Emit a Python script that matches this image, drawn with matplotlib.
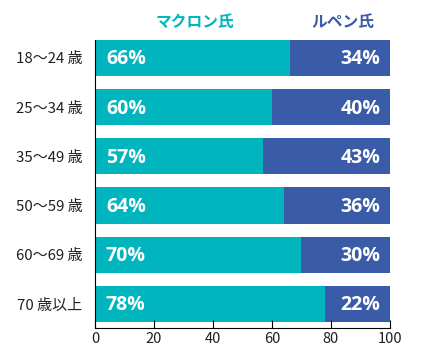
import numpy as np
import matplotlib
matplotlib.use("Agg")
import matplotlib.pyplot as plt

plt.rcParams['font.family'] = ['Noto Sans CJK JP', 'DejaVu Sans']

groups = ['18～24 歳', '25～34 歳', '35～49 歳', '50～59 歳', '60～69 歳', '70 歳以上']
macron = [66, 60, 57, 64, 70, 78]
lepen = [34, 40, 43, 36, 30, 22]
series_names = ['マクロン氏', 'ルペン氏']

teal = '#00b5bd'
blue = '#3a5ba8'

fig = plt.figure(figsize=(4.26, 3.59), dpi=100)
ax = fig.add_axes([0.223, 0.086, 0.692, 0.803])

y = np.arange(len(groups))
h = 0.735
ax.barh(y, macron, height=h, color=teal, linewidth=0)
ax.barh(y, lepen, left=macron, height=h, color=blue, linewidth=0)

# percentage labels inside the bars
for yi, m, l in zip(y, macron, lepen):
    ax.text(3.7, yi + 0.03, f'{m}%', color='white', fontsize=14, fontweight='bold',
            ha='left', va='center', family=['Open Sans', 'DejaVu Sans'])
    ax.text(96.8, yi + 0.03, f'{l}%', color='white', fontsize=14, fontweight='bold',
            ha='right', va='center', family=['Open Sans', 'DejaVu Sans'])

ax.set_ylim(5.49, -0.367)
ax.set_xlim(0, 100)
ax.set_yticks(y)
ax.set_yticklabels(groups, fontsize=10.8, color='#231f20')
ax.set_xticks([0, 20, 40, 60, 80, 100])
ax.tick_params(axis='x', direction='in', length=6, labelsize=10.5, pad=3,
               labelcolor='#231f20')
ax.tick_params(axis='y', length=0, pad=9)
for s in ['top', 'right']:
    ax.spines[s].set_visible(False)
ax.spines['left'].set_bounds(5.49, -0.367)

fig.text(195 / 426, 1 - 22 / 359, series_names[0], color=teal, fontsize=11.3,
         fontweight='bold', ha='center', va='center')
fig.text(343 / 426, 1 - 22 / 359, series_names[1], color=blue, fontsize=11.3,
         fontweight='bold', ha='center', va='center')

fig.savefig('out.png', dpi=100)
